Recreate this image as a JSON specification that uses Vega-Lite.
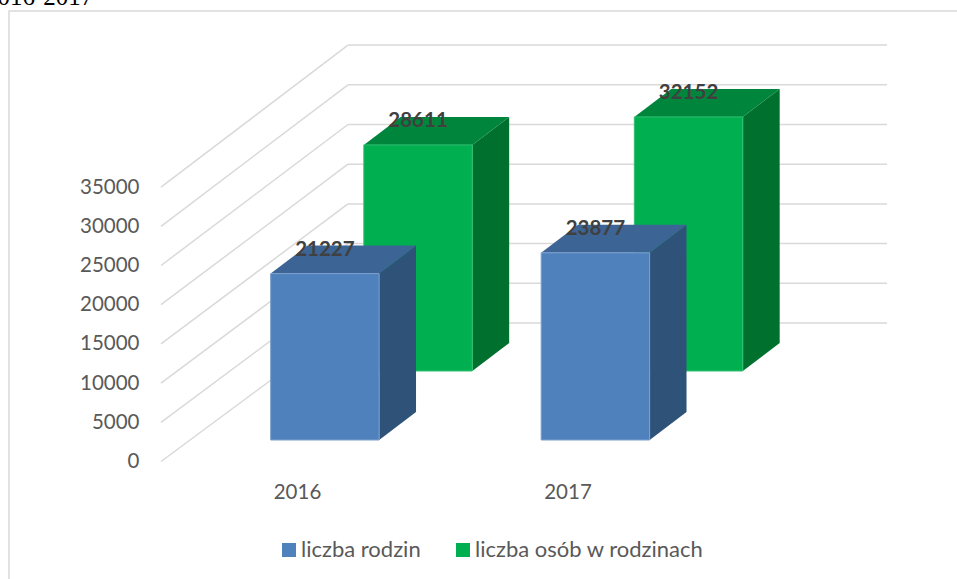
{
"$schema":"https://vega.github.io/schema/vega-lite/v6.json",
"width":952,"height":572,
"autosize":"none",
"padding":{"left":9,"top":11,"right":0,"bottom":0},
"background":"white",
"view":{"stroke":"#d9d9d9","strokeWidth":1.5,"fill":"white"},
"data":{"values":[
{"year":2016,"series":"liczba rodzin","value":21227},
{"year":2017,"series":"liczba rodzin","value":23877},
{"year":2016,"series":"liczba osób w rodzinach","value":28611},
{"year":2017,"series":"liczba osób w rodzinach","value":32152}
]},
"transform":[
{"calculate":"datum.series==='liczba rodzin'?0:1","as":"s"},
{"calculate":"datum.year-0.0974+datum.s*0.3444","as":"x0"},
{"calculate":"datum.x0+0.4011","as":"x1"},
{"calculate":"datum.s?11543:2742","as":"base"},
{"calculate":"datum.base+datum.value*(datum.s?1.008:1)","as":"top"},
{"calculate":"datum.x0+0.2005","as":"xm"},
{"calculate":"datum.top+3061","as":"ylab"},
{"calculate":"0","as":"t0"},
{"calculate":"1","as":"t1"},
{"fold":["t0","t1"],"as":["k","t"]},
{"calculate":"datum.x1+datum.t*0.1363","as":"sx"},
{"calculate":"datum.top+datum.t*3571","as":"sy"},
{"calculate":"datum.base+datum.t*3571","as":"sy2"},
{"calculate":"datum.x0+datum.t*0.1363","as":"tx"}
],
"resolve":{"axis":{"x":"independent","y":"independent"}},
"layer":[
{"data":{"values":[{"v":0},{"v":5000},{"v":10000},{"v":15000},{"v":20000},{"v":25000},{"v":30000},{"v":35000}]},
 "transform":[{"calculate":"2015.4972","as":"xa"},{"calculate":"2016.1885","as":"xb"},{"calculate":"17666+datum.v*1.0128","as":"yb"}],
 "mark":{"type":"rule","color":"#d9d9d9","strokeWidth":1.5},
 "encoding":{
  "x":{"field":"xa","type":"quantitative","scale":{"domain":[2014.9353,2018.4547],"nice":false,"zero":false},
       "axis":{"values":[2016,2017],"format":"d","title":null,"orient":"bottom","offset":-91,"domain":false,"ticks":false,"grid":false,"labelPadding":0,"labelBaseline":"middle","labelFont":"Lato","labelFontSize":20.5,"labelColor":"#595959"}},
  "x2":{"field":"xb"},
  "y":{"field":"v","type":"quantitative","scale":{"domain":[-15497,57462],"nice":false,"zero":false},
       "axis":{"values":[0,5000,10000,15000,20000,25000,30000,35000],"format":"d","title":null,"orient":"left","offset":-130,"domain":false,"ticks":false,"grid":false,"labelPadding":0,"labelFont":"Lato","labelFontSize":20.5,"labelColor":"#595959"}},
  "y2":{"field":"yb"}
 }},
{"data":{"values":[{"v":0},{"v":5000},{"v":10000},{"v":15000},{"v":20000},{"v":25000},{"v":30000},{"v":35000}]},
 "transform":[{"calculate":"2016.1885","as":"xb"},{"calculate":"2018.1811","as":"xc"},{"calculate":"17666+datum.v*1.0128","as":"yb"}],
 "mark":{"type":"rule","color":"#d9d9d9","strokeWidth":1.5},
 "encoding":{
  "x":{"field":"xb","type":"quantitative","scale":{"domain":[2014.9353,2018.4547],"nice":false,"zero":false},"axis":null},
  "x2":{"field":"xc"},
  "y":{"field":"yb","type":"quantitative","scale":{"domain":[-15497,57462],"nice":false,"zero":false},"axis":null}
 }},
{"data":{"values":[{"label":"2016-2017","lx":2014.8466,"ly":58227}]},
 "mark":{"type":"text","font":"Liberation Serif","fontSize":25,"color":"#000000","align":"left","baseline":"alphabetic","clip":false},
 "encoding":{
  "x":{"field":"lx","type":"quantitative","scale":{"domain":[2014.9353,2018.4547],"nice":false,"zero":false},"axis":null},
  "y":{"field":"ly","type":"quantitative","scale":{"domain":[-15497,57462],"nice":false,"zero":false},"axis":null},
  "text":{"field":"label"}
 }},
{"transform":[{"filter":"datum.s===1"}],
 "mark":{"type":"area","orient":"vertical","color":"#00702F"},
 "encoding":{
  "x":{"field":"sx","type":"quantitative","scale":{"domain":[2014.9353,2018.4547],"nice":false,"zero":false},"axis":null},
  "y":{"field":"sy","type":"quantitative","scale":{"domain":[-15497,57462],"nice":false,"zero":false},"axis":null},
  "y2":{"field":"sy2"},
  "detail":{"field":"year"}
 }},
{"transform":[{"filter":"datum.s===1"}],
 "mark":{"type":"area","orient":"horizontal","color":"#00853D"},
 "encoding":{
  "y":{"field":"sy","type":"quantitative","scale":{"domain":[-15497,57462],"nice":false,"zero":false},"axis":null},
  "x":{"field":"tx","type":"quantitative","scale":{"domain":[2014.9353,2018.4547],"nice":false,"zero":false},"axis":null},
  "x2":{"field":"sx"},
  "detail":{"field":"year"}
 }},
{"transform":[{"filter":"datum.s===1 && datum.k==='t0'"}],
 "mark":{"type":"rect","stroke":"#33C073","strokeWidth":1},
 "encoding":{
  "x":{"field":"x0","type":"quantitative","scale":{"domain":[2014.9353,2018.4547],"nice":false,"zero":false},"axis":null},
  "x2":{"field":"x1"},
  "y":{"field":"top","type":"quantitative","scale":{"domain":[-15497,57462],"nice":false,"zero":false},"axis":null},
  "y2":{"field":"base"},
  "color":{"field":"series","type":"nominal","scale":{"domain":["liczba rodzin","liczba osób w rodzinach"],"range":["#4F81BD","#00B050"]},
    "legend":{"title":null,"orient":"none","legendX":269,"legendY":528,"direction":"horizontal","columns":2,"columnPadding":31,"symbolType":"square","symbolSize":196,"symbolStrokeWidth":0,"symbolOpacity":1,"labelOffset":1,"labelFont":"Lato","labelFontSize":22,"labelColor":"#595959","labelLimit":400}}
 }},
{"transform":[{"filter":"datum.s===0"}],
 "mark":{"type":"area","orient":"vertical","color":"#2F5279"},
 "encoding":{
  "x":{"field":"sx","type":"quantitative","scale":{"domain":[2014.9353,2018.4547],"nice":false,"zero":false},"axis":null},
  "y":{"field":"sy","type":"quantitative","scale":{"domain":[-15497,57462],"nice":false,"zero":false},"axis":null},
  "y2":{"field":"sy2"},
  "detail":{"field":"year"}
 }},
{"transform":[{"filter":"datum.s===0"}],
 "mark":{"type":"area","orient":"horizontal","color":"#3C6494"},
 "encoding":{
  "y":{"field":"sy","type":"quantitative","scale":{"domain":[-15497,57462],"nice":false,"zero":false},"axis":null},
  "x":{"field":"tx","type":"quantitative","scale":{"domain":[2014.9353,2018.4547],"nice":false,"zero":false},"axis":null},
  "x2":{"field":"sx"},
  "detail":{"field":"year"}
 }},
{"transform":[{"filter":"datum.s===0 && datum.k==='t0'"}],
 "mark":{"type":"rect","stroke":"#7DA0CF","strokeWidth":1},
 "encoding":{
  "x":{"field":"x0","type":"quantitative","scale":{"domain":[2014.9353,2018.4547],"nice":false,"zero":false},"axis":null},
  "x2":{"field":"x1"},
  "y":{"field":"top","type":"quantitative","scale":{"domain":[-15497,57462],"nice":false,"zero":false},"axis":null},
  "y2":{"field":"base"},
  "color":{"field":"series","type":"nominal","scale":{"domain":["liczba rodzin","liczba osób w rodzinach"],"range":["#4F81BD","#00B050"]}}
 }},
{"transform":[{"filter":"datum.k==='t0'"}],
 "mark":{"type":"text","font":"Lato","fontSize":20.5,"fontWeight":"bold","color":"#404040","baseline":"middle","align":"center"},
 "encoding":{
  "x":{"field":"xm","type":"quantitative","scale":{"domain":[2014.9353,2018.4547],"nice":false,"zero":false},"axis":null},
  "y":{"field":"ylab","type":"quantitative","scale":{"domain":[-15497,57462],"nice":false,"zero":false},"axis":null},
  "text":{"field":"value","type":"quantitative","format":"d"}
 }}
]
}
